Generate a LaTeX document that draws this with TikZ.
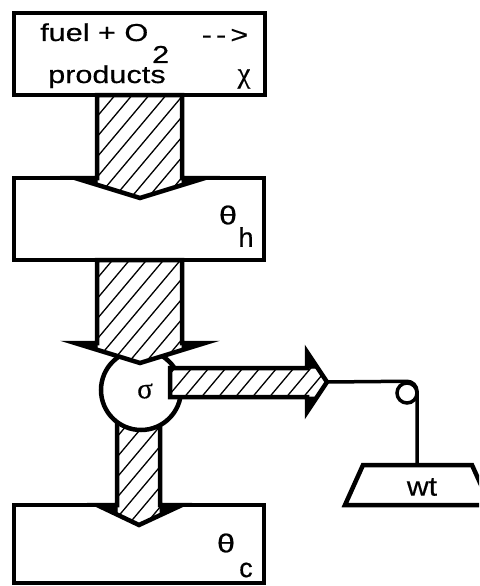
\documentclass[tikz,border=0pt]{standalone}
\usepackage{fontspec}
\setmainfont{Liberation Sans}
\newfontfamily\serifg[FakeBold=0.4]{Liberation Serif}
\newfontfamily\widesans[FakeStretch=1.25,FakeBold=0.5]{Liberation Sans}
\newfontfamily\midsans[FakeStretch=1.12,FakeBold=0.5]{Liberation Sans}
\newfontfamily\plainsans[FakeBold=0.5]{Liberation Sans}
\newcommand{\bigtxt}{\widesans\fontsize{24.5}{28}\selectfont}
\newcommand{\hatchshape}[1]{%
  \begin{scope}
    \clip #1;
    \fill[white] (-10,-10) rectangle (500,600);
    \foreach \hx in {-700,-683,...,600} \draw[hatchline] (\hx,600) -- ++(504,-600);
  \end{scope}
  \draw[outl] #1;}
\begin{document}
\begin{tikzpicture}[x=1pt,y=-1pt,
  outl/.style={line width=4.5pt,line join=miter},
  hatchline/.style={line width=1.3pt},
  wing/.style={fill=black,draw=black,line width=1pt},
  lbl/.style={inner sep=0pt,font=\bigtxt}]
\useasboundingbox (0,0) rectangle (479,586);
\clip (0,0) rectangle (479,586);
% box 1
\draw[outl] (14,13) rectangle (265,95);
% arrow 1
\hatchshape{(97,95) -- (182,95) -- (182,178) -- (205,178) -- (140,198) -- (75,178) -- (97,178) -- cycle}
\draw[wing] (75,178) -- (97,178) -- (97,184.8) -- cycle;
\draw[wing] (205,178) -- (182,178) -- (182,185.1) -- cycle;
% box 2
\draw[outl] (75,178) -- (14,178) -- (14,260) -- (264,260) -- (264,178) -- (205,178);
% arrow 3
\hatchshape{(117,410) -- (160,410) -- (160,505) -- (182,505) -- (139,525) -- (97,505) -- (117,505) -- cycle}
\draw[wing] (97,505) -- (117,505) -- (117,515.5) -- cycle;
\draw[wing] (182,505) -- (160,505) -- (160,514.8) -- cycle;
% circle
\node[circle,minimum size=80pt,inner sep=0pt,fill=white,draw,line width=4.5pt] (sig) at (141,390) {};
% arrow 2
\hatchshape{(97,260) -- (182,260) -- (182,343) -- (205,343) -- (140,363) -- (75,343) -- (97,343) -- cycle}
\draw[wing] (75,343) -- (97,343) -- (97,349.8) -- cycle;
\draw[wing] (205,343) -- (182,343) -- (182,350.1) -- cycle;
% right arrow
\hatchshape{(170,368) -- (307,368) -- (307,352) -- (327,382) -- (307,412) -- (307,397) -- (170,397) -- cycle}
\draw[wing] (307,352) -- (307,368) -- (317.7,368) -- cycle;
\draw[wing] (307,412) -- (307,397) -- (317,397) -- cycle;
\coordinate (tip) at (327,382);
% box 3
\draw[outl] (97,505) -- (14,505) -- (14,583) -- (264,583) -- (264,505) -- (182,505);
% pulley and rope
\node[circle,minimum size=20pt,inner sep=0pt,draw,line width=3.5pt] (pul) at (407,393) {};
\coordinate (hang) at (417,465);
\draw[line width=3.5pt] (tip) -- (pul.north) arc[start angle=90,end angle=0,radius=10pt] -- (hang);
% weight
\draw[outl] (363,465) -- (472,465) -- (490,505) -- (345,505) -- cycle;
% texts
\node[lbl,anchor=base west] (t1) at (40,41) {fuel + O};
\node[lbl,anchor=base west] (t2) at (152,63) {2};
\node[lbl] (t3) at (225,36) {-\,-\,>};
\node[lbl,anchor=base west] (t4) at (48,83) {products};
\node[lbl] (t5) at (244,79) {\serifg\fontsize{29}{30}\selectfont χ};
\node[lbl] (th) at (228,215) {\widesans\fontsize{26}{28}\selectfont θ};
\node[lbl] (hh) at (246,237) {\plainsans\fontsize{27}{28}\selectfont h};
\node[lbl] (s) at (145,391) {\serifg\fontsize{29}{30}\selectfont σ};
\node[lbl] (tc) at (226,543) {\widesans\fontsize{26}{28}\selectfont θ};
\node[lbl] (cc) at (246,570) {\plainsans\fontsize{27}{28}\selectfont c};
\node[lbl] (wt) at (422,487) {\midsans\fontsize{27}{28}\selectfont wt};
\end{tikzpicture}
\end{document}
